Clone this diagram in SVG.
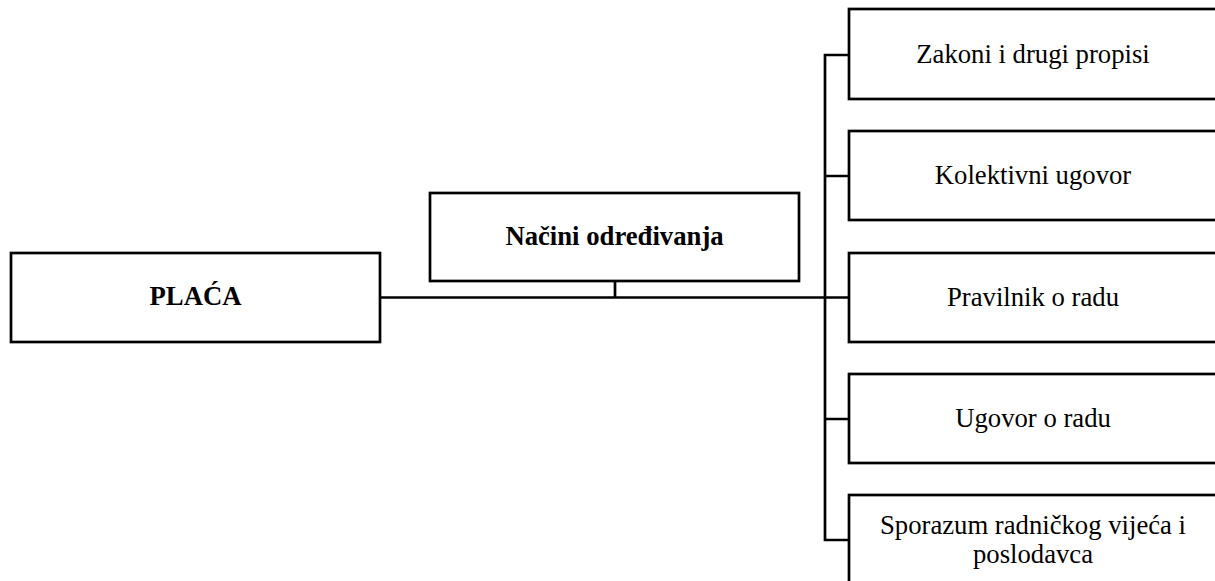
<svg xmlns="http://www.w3.org/2000/svg" width="1215" height="581" viewBox="0 0 1215 581">
<style>
.box{fill:#fff;stroke:#000;stroke-width:2.7}
.t{font-family:"Liberation Serif","Times New Roman",serif;font-size:26.7px;fill:#000;text-anchor:middle}
.b{font-weight:bold}
.c{fill:none;stroke:#000;stroke-width:2.7}
</style>
<rect width="1215" height="581" fill="#fff"/>
<g id="connectors">
<path class="c" d="M380,297.5 H849"/>
<path class="c" d="M615,281 V297.5"/>
<path class="c" d="M849,55 H825 V540 H849"/>
<path class="c" d="M825,176 H849 M825,419 H849"/>
</g>
<g id="placa">
<rect class="box" x="11" y="253" width="369" height="89"/>
<text class="t b" x="195.5" y="305">PLAĆA</text>
</g>
<g id="nacini">
<rect class="box" x="430" y="193" width="369" height="88"/>
<text class="t b" x="614.5" y="245">Načini određivanja</text>
</g>
<g id="zakoni">
<rect class="box" x="849" y="9" width="372" height="90"/>
<text class="t" x="1033" y="63">Zakoni i drugi propisi</text>
</g>
<g id="kolektivni">
<rect class="box" x="849" y="131" width="372" height="89"/>
<text class="t" x="1033" y="184">Kolektivni ugovor</text>
</g>
<g id="pravilnik">
<rect class="box" x="849" y="253" width="372" height="89"/>
<text class="t" x="1033" y="306">Pravilnik o radu</text>
</g>
<g id="ugovor">
<rect class="box" x="849" y="374" width="372" height="89"/>
<text class="t" x="1033" y="427">Ugovor o radu</text>
</g>
<g id="sporazum">
<rect class="box" x="849" y="495" width="372" height="100"/>
<text class="t" x="1033" y="533.5">Sporazum radničkog vijeća i</text>
<text class="t" x="1033" y="563">poslodavca</text>
</g>
</svg>
